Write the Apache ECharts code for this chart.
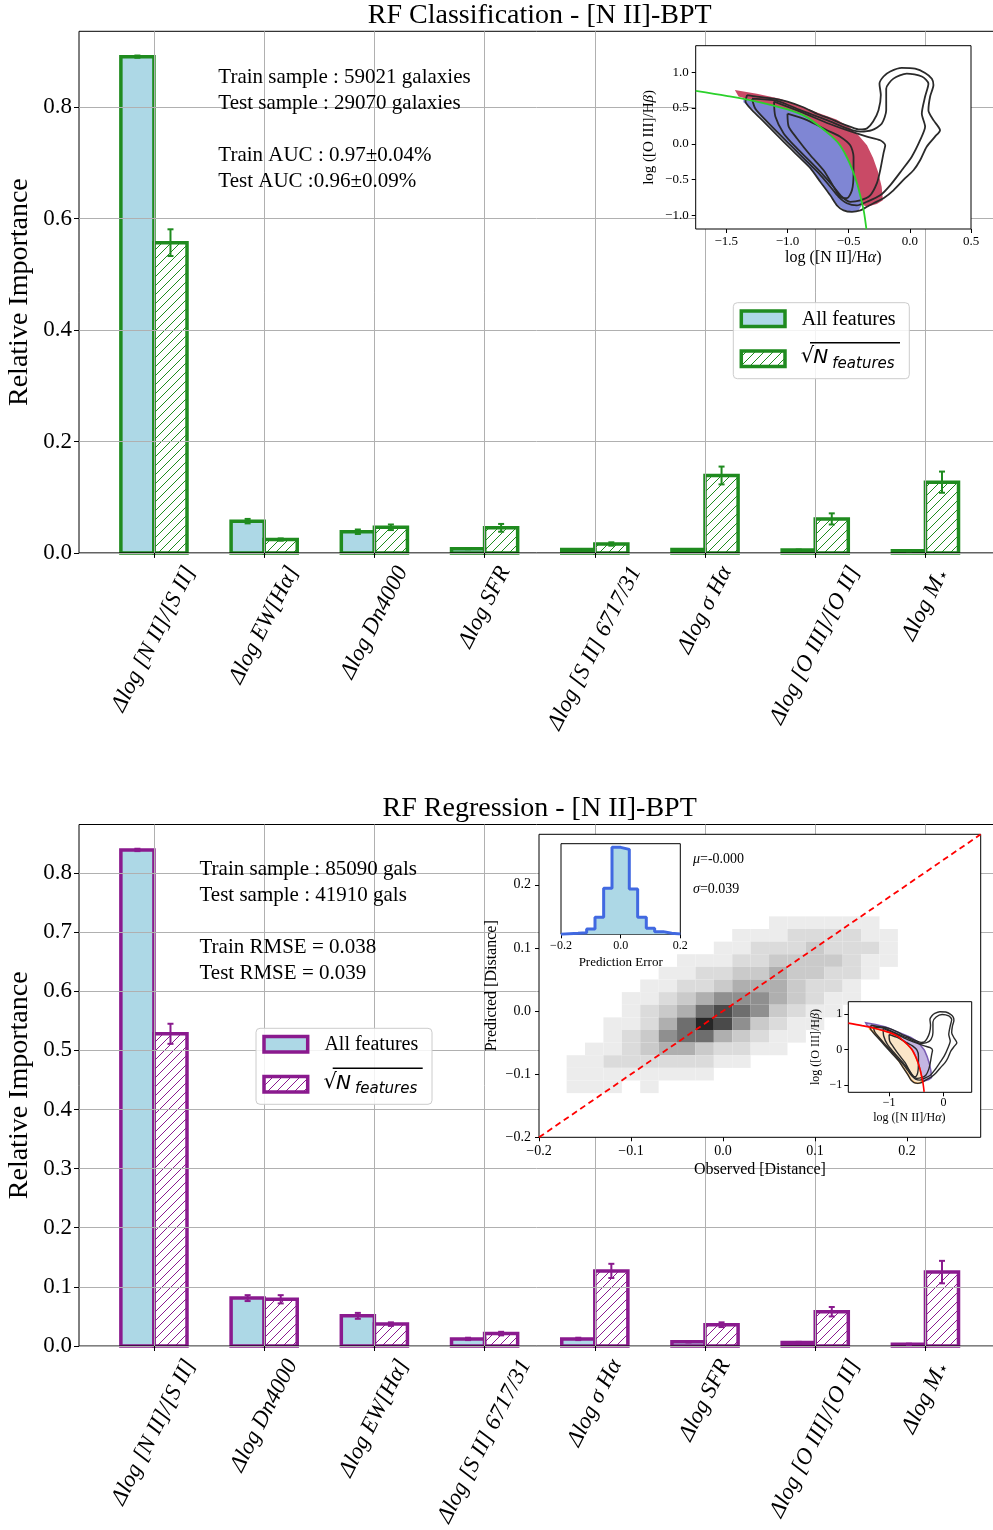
<!DOCTYPE html>
<html>
<head>
<meta charset="utf-8">
<title>RF feature importance - [N II]-BPT</title>
<script src="https://cdn.jsdelivr.net/npm/echarts@6/dist/echarts.min.js"></script>
<style>
  html, body { margin: 0; padding: 0; background: #fff; }
  #chart { width: 993px; height: 1530px; }
</style>
</head>
<body>
<div id="chart"></div>
<script>
// Feature importance charts (classification + regression) with BPT insets

// ---- classification panel ----
const clsNames = ['Δlog [N II]/[S II]', 'Δlog EW[Hα]', 'Δlog Dn4000', 'Δlog SFR',
  'Δlog [S II] 6717/31', 'Δlog σ Hα', 'Δlog [O III]/[O II]', 'Δlog M⋆'];
const clsAll = [0.891, 0.057, 0.038, 0.0076, 0.006, 0.006, 0.005, 0.004];
const clsAllErr = [0.002, 0.004, 0.004, 0.001, 0.001, 0.001, 0.001, 0.001];
const clsSqrt = [0.557, 0.024, 0.046, 0.045, 0.016, 0.139, 0.061, 0.127];
const clsSqrtErr = [0.024, 0.002, 0.005, 0.007, 0.003, 0.016, 0.010, 0.019];

// ---- regression panel ----
const regNames = ['Δlog [N II]/[S II]', 'Δlog Dn4000', 'Δlog EW[Hα]', 'Δlog [S II] 6717/31',
  'Δlog σ Hα', 'Δlog SFR', 'Δlog [O III]/[O II]', 'Δlog M⋆'];
const regAll = [0.839, 0.081, 0.051, 0.012, 0.012, 0.007, 0.006, 0.003];
const regAllErr = [0.002, 0.005, 0.005, 0.002, 0.002, 0.001, 0.001, 0.001];
const regSqrt = [0.528, 0.079, 0.037, 0.021, 0.127, 0.036, 0.058, 0.125];
const regSqrtErr = [0.017, 0.007, 0.003, 0.003, 0.012, 0.004, 0.008, 0.019];

const mainYTicksCls = [0, 0.2, 0.4, 0.6, 0.8];
const mainYTicksReg = [0, 0.1, 0.2, 0.3, 0.4, 0.5, 0.6, 0.7, 0.8];
const featureTicks = [0, 1, 2, 3, 4, 5, 6, 7];

// ---- BPT diagram (log [N II]/Ha, log [O III]/Hb) ----
const bptCurve = [[-1.75, 0.74], [-1.5, 0.67], [-1.25, 0.59], [-1.0, 0.48], [-0.85, 0.38],
  [-0.75, 0.26], [-0.65, 0.12], [-0.58, 0.0], [-0.52, -0.17], [-0.47, -0.36], [-0.43, -0.56],
  [-0.40, -0.76], [-0.375, -0.95], [-0.355, -1.19]];
const contourOuter = [[-1.33, 0.68], [-1.25, 0.66], [-1.11, 0.63], [-1.0, 0.59], [-0.87, 0.51],
  [-0.76, 0.42], [-0.65, 0.35], [-0.57, 0.29], [-0.49, 0.24], [-0.41, 0.20], [-0.35, 0.215],
  [-0.30, 0.31], [-0.256, 0.47], [-0.237, 0.68], [-0.248, 0.84], [-0.215, 0.94], [-0.16, 1.01],
  [-0.066, 1.06], [0.043, 1.05], [0.125, 0.99], [0.18, 0.91], [0.193, 0.82], [0.166, 0.66],
  [0.152, 0.47], [0.193, 0.33], [0.247, 0.19], [0.206, 0.10], [0.138, -0.04], [0.084, -0.23],
  [0.03, -0.37], [-0.038, -0.48], [-0.134, -0.65], [-0.215, -0.76], [-0.297, -0.83],
  [-0.351, -0.88], [-0.405, -0.93], [-0.473, -0.95], [-0.541, -0.93], [-0.596, -0.86],
  [-0.65, -0.72], [-0.732, -0.53], [-0.813, -0.34], [-0.895, -0.20], [-0.976, -0.065],
  [-1.085, 0.12], [-1.194, 0.31], [-1.289, 0.47], [-1.343, 0.59]];
const contourSecond = [[-1.29, 0.63], [-1.085, 0.60], [-0.895, 0.47], [-0.677, 0.33],
  [-0.514, 0.215], [-0.405, 0.17], [-0.31, 0.19], [-0.23, 0.28], [-0.193, 0.47], [-0.193, 0.77],
  [-0.134, 0.91], [-0.025, 0.98], [0.098, 0.94], [0.152, 0.84], [0.125, 0.66], [0.098, 0.42],
  [0.125, 0.24], [0.084, 0.05], [0.016, -0.18], [-0.066, -0.37], [-0.161, -0.58], [-0.242, -0.72],
  [-0.351, -0.81], [-0.433, -0.86], [-0.514, -0.83], [-0.582, -0.74], [-0.65, -0.60],
  [-0.745, -0.41], [-0.84, -0.25], [-0.949, -0.065], [-1.058, 0.12], [-1.167, 0.31], [-1.262, 0.49]];
const contourThird = [[-1.11, 0.59], [-0.895, 0.45], [-0.677, 0.29], [-0.514, 0.19], [-0.351, 0.10],
  [-0.242, 0.05], [-0.201, -0.02], [-0.215, -0.13], [-0.242, -0.37], [-0.269, -0.55],
  [-0.324, -0.72], [-0.405, -0.79], [-0.487, -0.81], [-0.555, -0.74], [-0.623, -0.60],
  [-0.705, -0.44], [-0.813, -0.25], [-0.922, -0.065], [-1.031, 0.145], [-1.099, 0.38]];
const contourInner = [[-1.0, 0.42], [-0.84, 0.33], [-0.677, 0.19], [-0.569, 0.10], [-0.487, -0.02],
  [-0.46, -0.18], [-0.46, -0.41], [-0.473, -0.65], [-0.514, -0.76], [-0.569, -0.74],
  [-0.623, -0.60], [-0.705, -0.37], [-0.813, -0.16], [-0.922, 0.075], [-0.99, 0.24]];
const agnRegion = [[-1.43, 0.75], [-1.25, 0.70], [-1.06, 0.63], [-0.90, 0.53], [-0.73, 0.42],
  [-0.60, 0.34], [-0.50, 0.24], [-0.42, 0.12], [-0.35, -0.02], [-0.30, -0.20], [-0.26, -0.39],
  [-0.23, -0.60], [-0.22, -0.79], [-0.27, -0.84], [-0.35, -0.88], [-0.39, -0.85], [-0.40, -0.76],
  [-0.43, -0.56], [-0.47, -0.36], [-0.52, -0.17], [-0.58, 0.0], [-0.65, 0.12], [-0.75, 0.26],
  [-0.85, 0.38], [-1.0, 0.48], [-1.25, 0.59], [-1.40, 0.66]];
const sfRegion = [[-1.36, 0.62], [-1.25, 0.59], [-1.0, 0.48], [-0.85, 0.38], [-0.75, 0.26],
  [-0.65, 0.12], [-0.58, 0.0], [-0.52, -0.17], [-0.47, -0.36], [-0.43, -0.56], [-0.40, -0.76],
  [-0.39, -0.85], [-0.42, -0.93], [-0.47, -0.95], [-0.54, -0.92], [-0.60, -0.84], [-0.66, -0.68],
  [-0.74, -0.50], [-0.82, -0.32], [-0.90, -0.17], [-0.98, -0.03], [-1.08, 0.14], [-1.19, 0.33],
  [-1.28, 0.48], [-1.36, 0.58]];
const bptXTicks = [-1.5, -1.0, -0.5, 0.0, 0.5];
const bptYTicks = [-1.0, -0.5, 0.0, 0.5, 1.0];
const smallXTicks = [-1, 0];
const smallYTicks = [-1, 0, 1];

// ---- regression scatter: predicted vs observed density ----
const hexX = [-0.18, -0.16, -0.14, -0.12, -0.10, -0.08, -0.06, -0.04, -0.02, 0.0,
  0.02, 0.04, 0.06, 0.08, 0.10, 0.12, 0.14, 0.16, 0.18];
const hexY = [0.14, 0.12, 0.10, 0.08, 0.06, 0.04, 0.02, 0.0, -0.02, -0.04, -0.06, -0.08, -0.10, -0.12];
const hexCounts = [
  [0, 0, 0, 0, 0, 0, 0, 0, 0, 0, 0, 0, 1, 1, 1, 1, 1, 1, 0],
  [0, 0, 0, 0, 0, 0, 0, 0, 0, 0, 1, 1, 1, 2, 2, 2, 2, 1, 1],
  [0, 0, 0, 0, 0, 0, 0, 0, 0, 1, 1, 2, 2, 2, 3, 2, 2, 2, 1],
  [0, 0, 0, 0, 0, 0, 0, 1, 1, 1, 2, 2, 3, 3, 3, 3, 2, 1, 1],
  [0, 0, 0, 0, 0, 0, 1, 1, 2, 2, 3, 3, 4, 3, 3, 2, 2, 1, 0],
  [0, 0, 0, 0, 0, 1, 1, 2, 2, 3, 4, 4, 4, 3, 2, 2, 1, 0, 0],
  [0, 0, 0, 0, 1, 1, 2, 3, 4, 5, 5, 5, 4, 3, 2, 1, 1, 0, 0],
  [0, 0, 0, 0, 1, 2, 3, 4, 6, 7, 6, 5, 3, 2, 1, 1, 0, 0, 0],
  [0, 0, 0, 1, 1, 2, 4, 6, 8, 7, 5, 3, 2, 1, 1, 0, 0, 0, 0],
  [0, 0, 0, 1, 2, 3, 5, 6, 6, 4, 3, 2, 1, 1, 0, 0, 0, 0, 0],
  [0, 0, 1, 1, 2, 3, 4, 4, 3, 2, 2, 1, 1, 0, 0, 0, 0, 0, 0],
  [0, 1, 1, 2, 2, 2, 2, 2, 2, 1, 1, 0, 0, 0, 0, 0, 0, 0, 0],
  [0, 1, 1, 1, 1, 1, 1, 1, 1, 0, 0, 0, 0, 0, 0, 0, 0, 0, 0],
  [0, 1, 1, 1, 0, 1, 0, 0, 0, 0, 0, 0, 0, 0, 0, 0, 0, 0, 0]
];
const oneToOne = [[-0.2, -0.2], [0.28, 0.28]];
const scatterTicks = [-0.2, -0.1, 0.0, 0.1, 0.2];

// ---- prediction error histogram ----
const errEdges = [-0.2, -0.171, -0.143, -0.114, -0.086, -0.057, -0.029, 0.0,
  0.029, 0.057, 0.086, 0.114, 0.143, 0.171, 0.2];
const errCounts = [2, 3, 5, 16, 51, 138, 261, 255, 136, 51, 18, 8, 3, 1];
const histTicks = [-0.2, 0.0, 0.2];

// ---- styles ----
const serif = '"Liberation Serif", "Times New Roman", serif';
const sans = '"DejaVu Sans", sans-serif';
const green = '#1f8b1f';
const purple = '#8a1a8e';
const lightBlue = '#add8e6';
const gridGray = '#b0b0b0';
const barW = 0.3;

const chart = echarts.init(document.getElementById('chart'));

const patterns = {};
function hatch(color) {
    if (!patterns[color]) {
        const c = document.createElement('canvas');
        c.width = 9; c.height = 9;
        const g = c.getContext('2d');
        g.strokeStyle = color;
        g.lineWidth = 1;
        g.beginPath();
        g.moveTo(-1, 10); g.lineTo(10, -1);
        g.moveTo(-1, 1); g.lineTo(1, -1);
        g.moveTo(8, 10); g.lineTo(10, 8);
        g.stroke();
        patterns[color] = { image: c, repeat: 'repeat' };
    }
    return patterns[color];
}

const fmt1 = v => (v < 0 ? '−' : '') + Math.abs(v).toFixed(1);
const fmt0 = v => (v < 0 ? '−' : '') + Math.abs(v).toFixed(0);

// Bars drawn left (all features) or right (sqrt features) of each tick
function barSeries(values, axisIdx, left, color, hatched) {
    return {
        type: 'custom', xAxisIndex: axisIdx, yAxisIndex: axisIdx, z: 1, silent: true,
        data: values.map((v, i) => [i, v]),
        renderItem: (params, api) => {
            const x = api.value(0) - (left ? barW : 0);
            const a = api.coord([x, api.value(1)]);
            const b = api.coord([x + barW, 0]);
            return {
                type: 'rect',
                shape: { x: a[0], y: a[1], width: b[0] - a[0], height: b[1] - a[1] },
                style: { fill: hatched ? hatch(color) : lightBlue, stroke: color, lineWidth: 3.5 }
            };
        }
    };
}

function errSeries(values, errs, axisIdx, left, color) {
    return {
        type: 'custom', xAxisIndex: axisIdx, yAxisIndex: axisIdx, z: 4, silent: true,
        data: values.map((v, i) => [i + (left ? -barW / 2 : barW / 2), v, errs[i]]),
        renderItem: (params, api) => {
            const x = api.value(0), v = api.value(1), e = api.value(2);
            const top = api.coord([x, v + e]);
            const bot = api.coord([x, v - e]);
            const ls = { stroke: color, lineWidth: 2 };
            return {
                type: 'group', children: [
                    { type: 'line', shape: { x1: top[0], y1: top[1], x2: bot[0], y2: bot[1] }, style: ls },
                    { type: 'line', shape: { x1: top[0] - 3, y1: top[1], x2: top[0] + 3, y2: top[1] }, style: ls },
                    { type: 'line', shape: { x1: bot[0] - 3, y1: bot[1], x2: bot[0] + 3, y2: bot[1] }, style: ls }
                ]
            };
        }
    };
}

function polygonSeries(points, axisIdx, fill, stroke, z) {
    return {
        type: 'custom', xAxisIndex: axisIdx, yAxisIndex: axisIdx, z: z, silent: true,
        data: points,
        renderItem: (params, api) => {
            if (params.dataIndex !== 0) return;
            return {
                type: 'polygon',
                shape: { points: points.map(p => api.coord(p)) },
                style: { fill: fill, stroke: stroke || null, lineWidth: stroke ? 1.5 : 0 }
            };
        }
    };
}

function lineSeries(points, axisIdx, color, width, z, extra) {
    return Object.assign({
        type: 'line', xAxisIndex: axisIdx, yAxisIndex: axisIdx, z: z, silent: true,
        data: points, showSymbol: false, symbol: 'none',
        lineStyle: { color: color, width: width }
    }, extra || {});
}

function contourSet(axisIdx, width, z) {
    return [contourOuter, contourSecond, contourThird, contourInner].map(c =>
        lineSeries(c.concat([c[0]]), axisIdx, '#2a2a2a', width, z, { smooth: 0.25 }));
}

function valueAxis(gridIndex, min, max, ticks, opts) {
    const o = opts || {};
    return {
        type: 'value', gridIndex: gridIndex, min: min, max: max, z: o.z || 6,
        show: o.show !== false,
        axisLine: { show: false, onZero: false },
        axisTick: { show: true, customValues: ticks, length: o.tickLen || 4, inside: false,
                    lineStyle: { color: '#000', width: 1 } },
        axisLabel: o.noLabel ? { show: false } : {
            show: true, customValues: ticks, formatter: o.fmt || fmt1, margin: o.margin || 7,
            color: '#000', fontFamily: serif, fontSize: o.fontSize || 13
        },
        splitLine: { show: !!o.split, lineStyle: { color: gridGray, width: 1 } }
    };
}

const hexData = [];
hexCounts.forEach((row, r) => row.forEach((v, c) => {
    if (v > 0) hexData.push([hexX[c], hexY[r], v]);
}));

const histData = [[errEdges[0], 0]];
errCounts.forEach((n, i) => histData.push([errEdges[i], n]));
histData.push([errEdges[errEdges.length - 1], errCounts[errCounts.length - 1]]);
histData.push([errEdges[errEdges.length - 1], 0]);

function gridBox(left, top, width, height, z, bg) {
    return { left: left, top: top, width: width, height: height, show: true, z: z,
             outerBoundsMode: 'none', containLabel: false,
             borderColor: '#000', borderWidth: 1, backgroundColor: bg };
}

const grids = [
    gridBox(79, 31.3, 921.4, 521.6, 3, 'transparent'),
    gridBox(695.7, 45.7, 275.3, 183.3, 5, '#fff'),
    gridBox(79, 824.5, 921.4, 521.5, 3, 'transparent'),
    gridBox(539, 834.3, 441.7, 303, 5, '#fff'),
    gridBox(561, 843.7, 119.3, 90.6, 10, '#fff'),
    gridBox(848.3, 1001.7, 123.4, 90.6, 10, '#fff')
];

const xAxes = [
    valueAxis(0, -0.68, 7.68, featureTicks, { noLabel: true, split: true, z: 3, tickLen: 5 }),
    valueAxis(1, -1.75, 0.5, bptXTicks, { margin: 6 }),
    valueAxis(2, -0.68, 7.68, featureTicks, { noLabel: true, split: true, z: 3, tickLen: 5 }),
    valueAxis(3, -0.2, 0.28, scatterTicks, { fontSize: 14, margin: 7 }),
    valueAxis(4, -0.2, 0.2, histTicks, { fontSize: 12, margin: 6, z: 11 }),
    valueAxis(5, -1.75, 0.52, smallXTicks, { fontSize: 12, margin: 5, fmt: fmt0, z: 11 })
];
const yAxes = [
    valueAxis(0, 0, 0.9365, mainYTicksCls, { split: true, z: 3, fontSize: 23, margin: 7, tickLen: 5 }),
    valueAxis(1, -1.19, 1.37, bptYTicks, { margin: 7 }),
    valueAxis(2, 0, 0.882, mainYTicksReg, { split: true, z: 3, fontSize: 23, margin: 7, tickLen: 5 }),
    valueAxis(3, -0.2, 0.28, scatterTicks, { fontSize: 14, margin: 8 }),
    valueAxis(4, 0, 272, [], { show: false }),
    valueAxis(5, -1.2, 1.34, smallYTicks, { fontSize: 12, margin: 6, fmt: fmt0, z: 11 })
];

const series = [
    barSeries(clsAll, 0, true, green, false),
    barSeries(clsSqrt, 0, false, green, true),
    errSeries(clsAll, clsAllErr, 0, true, green),
    errSeries(clsSqrt, clsSqrtErr, 0, false, green),
    polygonSeries(agnRegion, 1, '#c94a66', null, 7),
    polygonSeries(sfRegion, 1, '#7f86d4', null, 7)
].concat(contourSet(1, 1.8, 8), [
    lineSeries(bptCurve, 1, '#2bd12b', 1.8, 9, { smooth: 0.3 }),
    barSeries(regAll, 2, true, purple, false),
    barSeries(regSqrt, 2, false, purple, true),
    errSeries(regAll, regAllErr, 2, true, purple),
    errSeries(regSqrt, regSqrtErr, 2, false, purple)
]);

const hexIndex = series.length;
series.push({
    type: 'custom', xAxisIndex: 3, yAxisIndex: 3, z: 7, silent: true,
    data: hexData,
    renderItem: (params, api) => {
        const c = api.coord([api.value(0), api.value(1)]);
        const s = api.size([0.02, 0.02]);
        return {
            type: 'rect',
            shape: { x: c[0] - s[0] / 2, y: c[1] - s[1] / 2, width: s[0], height: s[1] },
            style: { fill: api.visual('color') }
        };
    }
});
series.push(lineSeries(oneToOne, 3, '#ff0000', 1.8, 8, { lineStyle: { color: '#ff0000', width: 1.8, type: [6, 4] } }));
series.push(lineSeries(histData, 4, '#4169e1', 3, 12, { step: 'end', areaStyle: { color: lightBlue, opacity: 1 } }));
series.push(polygonSeries(agnRegion, 5, '#c3b6e2', '#7a5db3', 12));
series.push(polygonSeries(sfRegion, 5, '#fbe6c8', '#f0a040', 12));
contourSet(5, 1.4, 13).forEach(s => series.push(s));
series.push(lineSeries(bptCurve, 5, '#ff0000', 1.6, 14, { smooth: 0.3 }));

chart.setOption({
    animation: false,
    backgroundColor: '#fff',
    grid: grids,
    xAxis: xAxes,
    yAxis: yAxes,
    visualMap: [{
        type: 'continuous', show: false, seriesIndex: hexIndex, dimension: 2,
        min: 1, max: 8, inRange: { color: ['#ececec', '#c4c4c4', '#7a7a7a', '#262626'] }
    }],
    series: series
});

// ---- texts, legends and rotated feature labels ----
function txt(x, y, text, size, extra) {
    return {
        type: 'text', x: x, y: y, z: 20, silent: true,
        rotation: (extra && extra.rotation) || 0,
        style: Object.assign({
            text: text, fill: '#000', fontSize: size, fontFamily: serif,
            align: 'center', verticalAlign: 'middle'
        }, (extra && extra.style) || {})
    };
}
const italicRich = size => ({ i: { fontStyle: 'italic', fontFamily: serif, fontSize: size },
                              t: { fontFamily: serif, fontSize: size } });

function legend(x0, y0, color) {
    return [
        { type: 'rect', z: 20, silent: true, shape: { x: x0, y: y0, width: 176, height: 76, r: 4 },
          style: { fill: 'rgba(255,255,255,0.85)', stroke: '#cccccc', lineWidth: 1 } },
        { type: 'rect', z: 21, silent: true, shape: { x: x0 + 8, y: y0 + 8.3, width: 43.7, height: 15.5 },
          style: { fill: lightBlue, stroke: color, lineWidth: 3.5 } },
        txt(x0 + 68.4, y0 + 16.6, 'All features', 20, { style: { align: 'left' } }),
        { type: 'rect', z: 21, silent: true, shape: { x: x0 + 8, y: y0 + 48.3, width: 43.7, height: 15.5 },
          style: { fill: hatch(color), stroke: color, lineWidth: 3.5 } },
        txt(x0 + 67.5, y0 + 54.3, '√', 21, { style: { align: 'left', fontFamily: sans } }),
        txt(x0 + 80, y0 + 55.3, 'N', 20, { style: { align: 'left', fontFamily: sans, fontStyle: 'italic' } }),
        txt(x0 + 99, y0 + 61, 'features', 15, { style: { align: 'left', fontFamily: sans, fontStyle: 'italic' } }),
        { type: 'line', z: 21, silent: true,
          shape: { x1: x0 + 76.7, y1: y0 + 40, x2: x0 + 166.7, y2: y0 + 40 },
          style: { stroke: '#000', lineWidth: 1.5 } }
    ];
}

const labelSize = 23;
const labelAngle = 63 * Math.PI / 180;
const measureCtx = document.createElement('canvas').getContext('2d');
measureCtx.font = 'italic ' + labelSize + 'px ' + serif;

function featureLabels(gridIndex, names) {
    return names.map((name, i) => {
        const p = chart.convertToPixel({ gridIndex: gridIndex }, [i, 0]);
        const L = measureCtx.measureText(name).width;
        const H = labelSize * 1.15;
        const boxH = L * Math.sin(labelAngle) + H * Math.cos(labelAngle);
        const text = name.indexOf('⋆') >= 0
            ? '{t|' + name.replace('⋆', '') + '}{s|⋆}'
            : '{t|' + name + '}';
        return {
            type: 'text', x: p[0], y: p[1] + 9 + boxH / 2, rotation: labelAngle, z: 20, silent: true,
            style: {
                text: text, fill: '#000', align: 'center', verticalAlign: 'middle',
                fontSize: labelSize, fontFamily: serif, fontStyle: 'italic',
                rich: {
                    t: { fontSize: labelSize, fontFamily: serif, fontStyle: 'italic' },
                    s: { fontSize: 16, fontFamily: sans, verticalAlign: 'bottom' }
                }
            }
        };
    });
}

const rot = Math.PI / 2;
const graphics = [
    txt(539.7, 15.5, 'RF Classification - [N II]-BPT', 28),
    txt(539.7, 808.6, 'RF Regression - [N II]-BPT', 28),
    txt(20, 292.1, 'Relative Importance', 28, { rotation: rot }),
    txt(20, 1085.3, 'Relative Importance', 28, { rotation: rot }),
    txt(218.3, 64.5, 'Train sample : 59021 galaxies\nTest sample : 29070 galaxies\n\nTrain AUC : 0.97±0.04%\nTest AUC :0.96±0.09%', 21,
        { style: { align: 'left', verticalAlign: 'top', lineHeight: 26 } }),
    txt(199.5, 856.5, 'Train sample : 85090 gals\nTest sample : 41910 gals\n\nTrain RMSE = 0.038\nTest RMSE = 0.039', 21,
        { style: { align: 'left', verticalAlign: 'top', lineHeight: 26 } }),
    txt(833.3, 258, '{t|log ([N II]/H}{i|α}{t|)}', 16, { style: { rich: italicRich(16) } }),
    txt(649, 137.4, '{t|log ([O III]/H}{i|β}{t|)}', 15, { rotation: rot, style: { rich: italicRich(15) } }),
    txt(759.9, 1169.5, 'Observed [Distance]', 16),
    txt(491.6, 985.8, 'Predicted [Distance]', 16, { rotation: rot }),
    txt(620.7, 962.8, 'Prediction Error', 13),
    txt(693, 859.3, '{i|μ}{t|=-0.000}', 14, { style: { align: 'left', rich: italicRich(14) } }),
    txt(693, 889.3, '{i|σ}{t|=0.039}', 14, { style: { align: 'left', rich: italicRich(14) } }),
    txt(909.3, 1118, '{t|log ([N II]/H}{i|α}{t|)}', 12, { style: { rich: italicRich(12) } }),
    txt(816, 1047, '{t|log ([O III]/H}{i|β}{t|)}', 12, { rotation: rot, style: { rich: italicRich(12) } })
].concat(
    legend(733.3, 302.7, green),
    legend(256, 1028.3, purple),
    featureLabels(0, clsNames),
    featureLabels(2, regNames)
);

chart.setOption({ graphic: graphics });
</script>
</body>
</html>
